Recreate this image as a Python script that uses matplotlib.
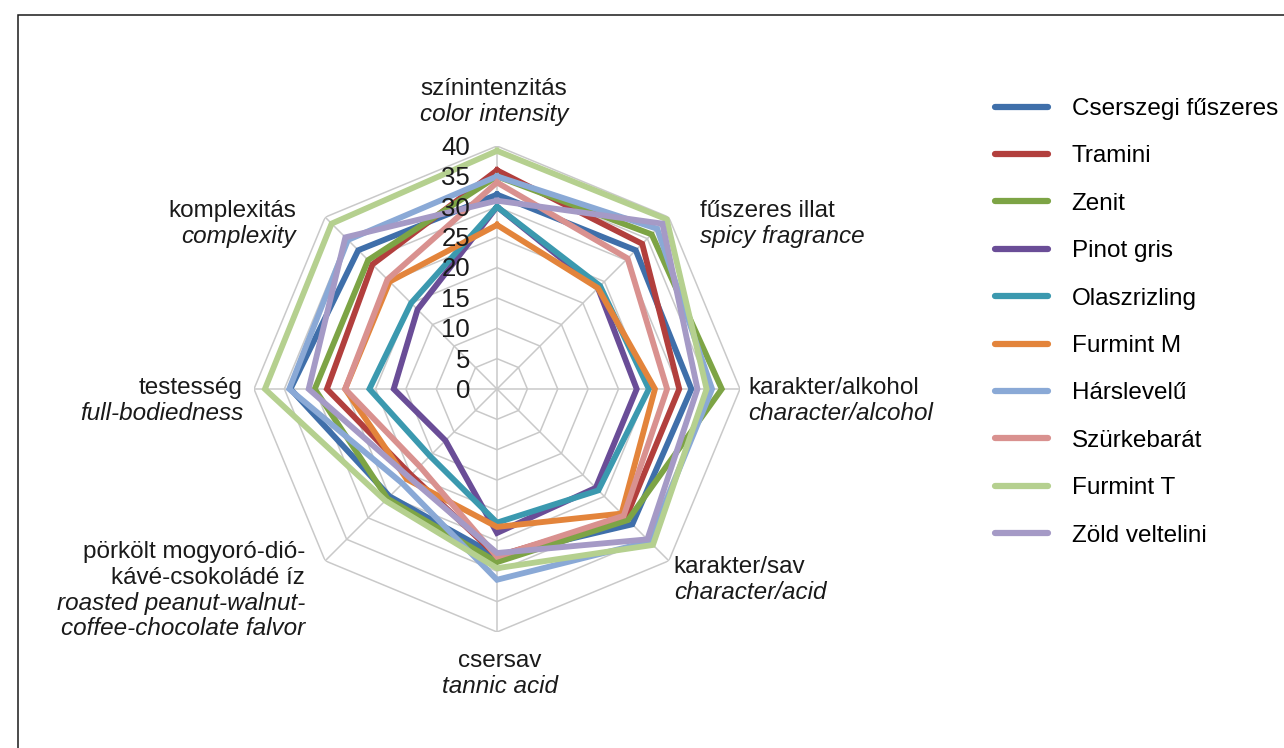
import numpy as np
import matplotlib.pyplot as plt
from matplotlib.lines import Line2D
from matplotlib.patches import Rectangle

plt.rcParams['font.family'] = ['Liberation Sans', 'DejaVu Sans']

# axes of the radar, clockwise from the top
categories_hu = ['színintenzitás', 'fűszeres illat', 'karakter/alkohol', 'karakter/sav',
                 'csersav', 'pörkölt mogyoró-dió-\nkávé-csokoládé íz', 'testesség', 'komplexitás']
categories_en = ['color intensity', 'spicy fragrance', 'character/alcohol', 'character/acid',
                 'tannic acid', 'roasted peanut-walnut-\ncoffee-chocolate falvor',
                 'full-bodiedness', 'complexity']

ticks = [0, 5, 10, 15, 20, 25, 30, 35, 40]

# values, same order as the categories
cserszegi = [32, 32.3, 32, 31.5, 27.5, 25, 34, 32.3]
tramini = [36, 33.8, 30, 30, 27.5, 20, 28, 29]
zenit = [35, 36, 37, 30.5, 28.5, 25.5, 30, 30]
pinot_gris = [30, 23.5, 23, 23, 23.7, 12, 17, 18.5]
olaszrizling = [30, 24, 25, 23.6, 22, 15.6, 21, 20]
furmint_m = [27, 23.5, 26, 29, 22.7, 21, 25, 25]
harslevelu = [35, 37.3, 35.4, 35.5, 31.4, 22, 34.2, 34.7]
szurkebarat = [34, 30.4, 28, 29.5, 27.6, 18, 25, 25.5]
furmint_t = [39.2, 39.5, 34.5, 36.3, 29.5, 26, 38.2, 38.5]
zold_veltelini = [31, 38.5, 33, 35, 27, 20.5, 31, 35.3]

series_names = ['Cserszegi fűszeres', 'Tramini', 'Zenit', 'Pinot gris', 'Olaszrizling',
                'Furmint M', 'Hárslevelű', 'Szürkebarát', 'Furmint T', 'Zöld veltelini']
series_values = [cserszegi, tramini, zenit, pinot_gris, olaszrizling,
                 furmint_m, harslevelu, szurkebarat, furmint_t, zold_veltelini]
series_colors = ['#3f6faa', '#b23f3d', '#7da445', '#6a4d97', '#3b99af',
                 '#e3843b', '#8aa9d6', '#d9918f', '#b5d08f', '#a59ac6']

fig = plt.figure(figsize=(12.84, 7.48), dpi=100)
W, H = 1284, 748
fs = 17.5

# frame around the picture (only top and left edges visible)
fig.add_artist(Rectangle((18 / W, -0.1), 1.2, (H - 15) / H + 0.1, transform=fig.transFigure,
                         fill=False, ec='#1a1a1a', lw=1.1))

ax = fig.add_axes([254 / W, 116 / H, 486 / W, 486 / H], projection='polar')
ax.set_theta_zero_location('N')
ax.set_theta_direction(-1)
ax.set_ylim(0, 40)
ax.grid(False)
ax.spines['polar'].set_visible(False)
ax.set_xticks([])
ax.set_yticks([])
ax.patch.set_alpha(0)

n = len(categories_hu)
angles = np.linspace(0, 2 * np.pi, n, endpoint=False)
closed = np.append(angles, angles[0])

# octagon grid
grid_c = '#c9c9c9'
for r in ticks[1:]:
    ax.plot(closed, [r] * (n + 1), color=grid_c, lw=1.1, zorder=1)
for a in angles:
    ax.plot([a, a], [0, ticks[-1]], color=grid_c, lw=1.1, zorder=1)

for v in ticks:
    ax.annotate(str(v), xy=(0, v), xytext=(-27, -2), textcoords='offset pixels',
                ha='right', va='center', fontsize=18.5, color='#1a1a1a',
                annotation_clip=False, zorder=6)

# series
for name, vals, col in zip(series_names, series_values, series_colors):
    ax.plot(closed, vals + vals[:1], color=col, lw=4.2, solid_joinstyle='miter',
            label=name, zorder=3, clip_on=False)

# category labels: (dx, dy of first line, alignment) in pixels from the outer vertex
label_pos = [(-3, -57, 'center'), (31, -6, 'left'), (8, -1, 'left'), (5, 6, 'left'),
             (3, 29, 'center'), (-20, -9, 'right'), (-11, -1, 'right'), (-29, -6, 'right')]
line_h = 25.7
for a, hu, en, (dx, dy, ha) in zip(angles, categories_hu, categories_en, label_pos):
    lines = [(t, 'normal') for t in hu.split('\n')] + [(t, 'italic') for t in en.split('\n')]
    for i, (t, style) in enumerate(lines):
        ax.annotate(t, xy=(a, 40), xytext=(dx, -(dy + i * line_h)), textcoords='offset pixels',
                    ha=ha, va='center', fontsize=fs, style=style, color='#1a1a1a',
                    annotation_clip=False)

handles = [Line2D([], [], color=c, lw=4.5, solid_capstyle='round') for c in series_colors]
fig.legend(handles, series_names, loc='upper left', bbox_to_anchor=(995 / W, 1 - 98 / H),
           frameon=False, fontsize=fs, handlelength=2.2, handletextpad=0.95,
           labelspacing=1.045, borderpad=0, borderaxespad=0)

fig.savefig('out.png', dpi=100)
